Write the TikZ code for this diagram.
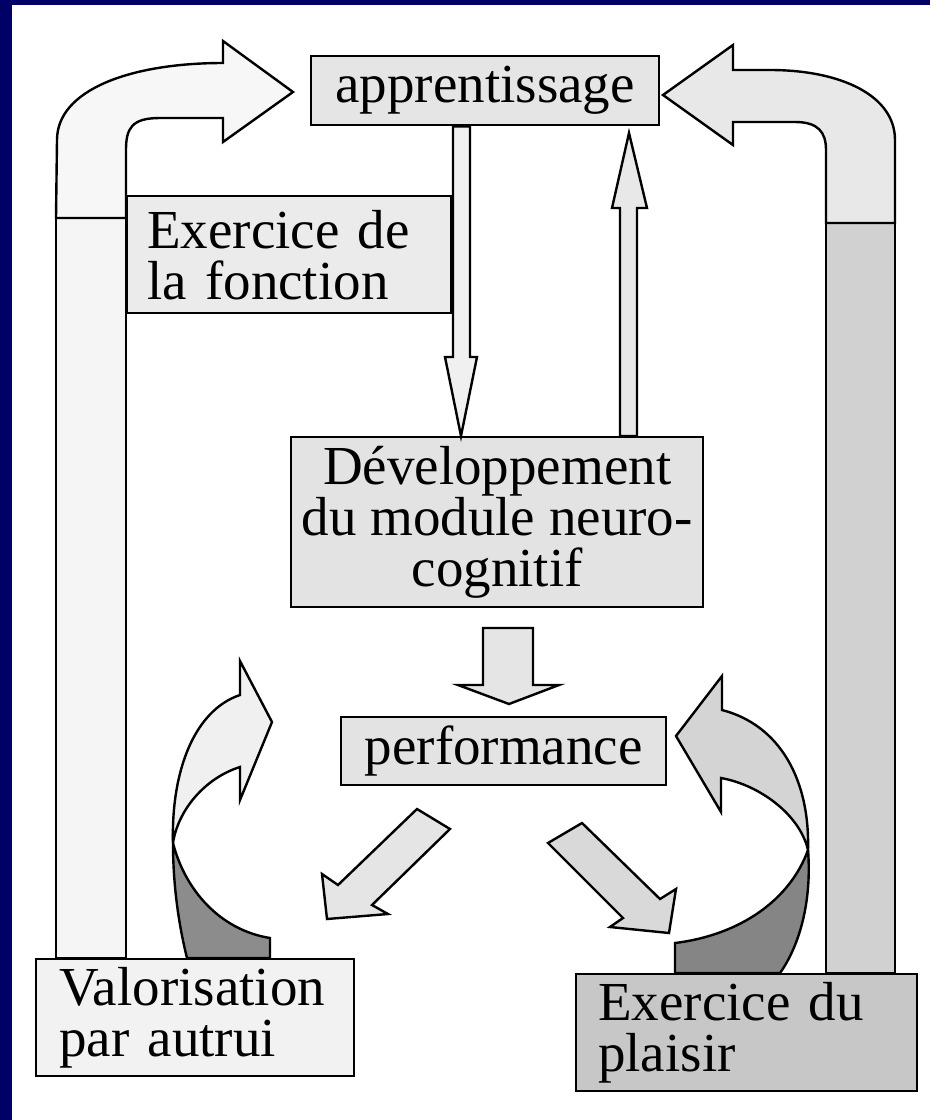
\documentclass[tikz,border=0pt]{standalone}
\usepackage{fontspec}
\setmainfont{Liberation Serif}
\definecolor{navy}{RGB}{0,0,102}
\begin{document}
\begin{tikzpicture}[
        x=1pt,y=-1pt,
        box/.style={
            draw,line width=2.4pt,anchor=north west,inner sep=0pt,
            font=\fontsize{55}{51}\selectfont
        },
        blk/.style={draw,line width=2.4pt,line join=miter}
    ]
% Frame
    \useasboundingbox (0,0) rectangle (930,1120);
    \fill[white] (0,0) rectangle (930,1120);
    \fill[navy] (0,0) rectangle (12,1120);
    \fill[navy] (0,0) rectangle (930,5);
% Boxes
    \node[box,fill=black!10,minimum width=348,minimum height=69] (appr) at (310,55) {apprentissage};
    \node[box,fill=black!8,text width=284,inner xsep=20,minimum height=117,align=left] (fonct) at (126,195) {Exercice de\\la fonction};
    \node[box,fill=black!11,minimum width=412,minimum height=170,align=center] (dev) at (290,436) {Développement\\du module neuro-\\cognitif};
    \node[box,fill=black!11,minimum width=325,minimum height=68] (perf) at (340,716) {performance};
    \node[box,fill=black!5,text width=272,inner xsep=23,minimum height=117,align=left] (valo) at (35,958) {Valorisation\\par autrui};
    \node[box,fill=black!22,text width=297,inner xsep=22,minimum height=117,align=left] (plaisir) at (575,973) {Exercice du\\plaisir};
% Outer loops
    \draw[blk,fill=black!4] (56,218) rectangle (126,0 |- valo.north);
    \draw[blk,fill=black!3] (56,218) -- (57,140) .. controls (57,90) and (130,63) .. (223,63)
        -- (223,41) -- (293,92) -- (223,142) -- (223,118) -- (160,118)
        .. controls (132,118) and (126,128) .. (126,150) -- (126,218) -- cycle;
    \draw[blk,fill=black!18] (826,223) rectangle (895,0 |- plaisir.north);
    \draw[blk,fill=black!9] (895,223) -- (895,140) .. controls (895,95) and (840,70) .. (770,70)
        -- (733,70) -- (733,45) -- (663,95) -- (733,145) -- (733,122) -- (795,122)
        .. controls (818,122) and (826,132) .. (826,150) -- (826,223) -- cycle;
% Vertical arrows
    \draw[blk,fill=black!6] (453,0 |- appr.south) -- (453,357) -- (445,357) -- (461,0 |- dev.north)
        -- (477,357) -- (470,357) -- (470,0 |- appr.south) -- cycle;
    \draw[blk,fill=black!9] (620,0 |- dev.north) -- (620,208) -- (612,208) -- (629,133)
        -- (647,208) -- (637,208) -- (637,0 |- dev.north) -- cycle;
    \draw[blk,fill=black!10] (483,628) -- (483,685) -- (458,685) -- (509,704)
        -- (559,685) -- (533,685) -- (533,628) -- cycle;
% Diagonal arrows
    \draw[blk,fill=black!10] (417,809) -- (338,885) -- (322,874) -- (327,919) -- (388,914)
        -- (372,905) -- (450,829) -- cycle;
    \draw[blk,fill=black!15] (582,823) -- (660,899) -- (676,889) -- (669,933) -- (610,927)
        -- (623,918) -- (548,843) -- cycle;
% Curved arrows
    \draw[blk,fill=black!45] (173,843) .. controls (173,890) and (180,930) .. (187,0 |- valo.north)
        -- (270,0 |- valo.north) -- (270,938) .. controls (220,930) and (185,890) .. (173,843) -- cycle;
    \draw[blk,fill=black!6] (173,843) .. controls (171,770) and (195,710) .. (240,695)
        -- (240,661) -- (272,722) -- (240,800) -- (240,767)
        .. controls (205,778) and (178,810) .. (173,843) -- cycle;
    \draw[blk,fill=black!48] (808,850) .. controls (812,900) and (800,945) .. (780,0 |- plaisir.north)
        -- (675,0 |- plaisir.north) -- (675,943) .. controls (740,935) and (790,900) .. (808,850) -- cycle;
    \draw[blk,fill=black!17] (808,850) .. controls (810,780) and (780,725) .. (722,710)
        -- (722,676) -- (676,736) -- (721,812) -- (721,778)
        .. controls (760,785) and (800,815) .. (808,850) -- cycle;
\end{tikzpicture}
\end{document}
